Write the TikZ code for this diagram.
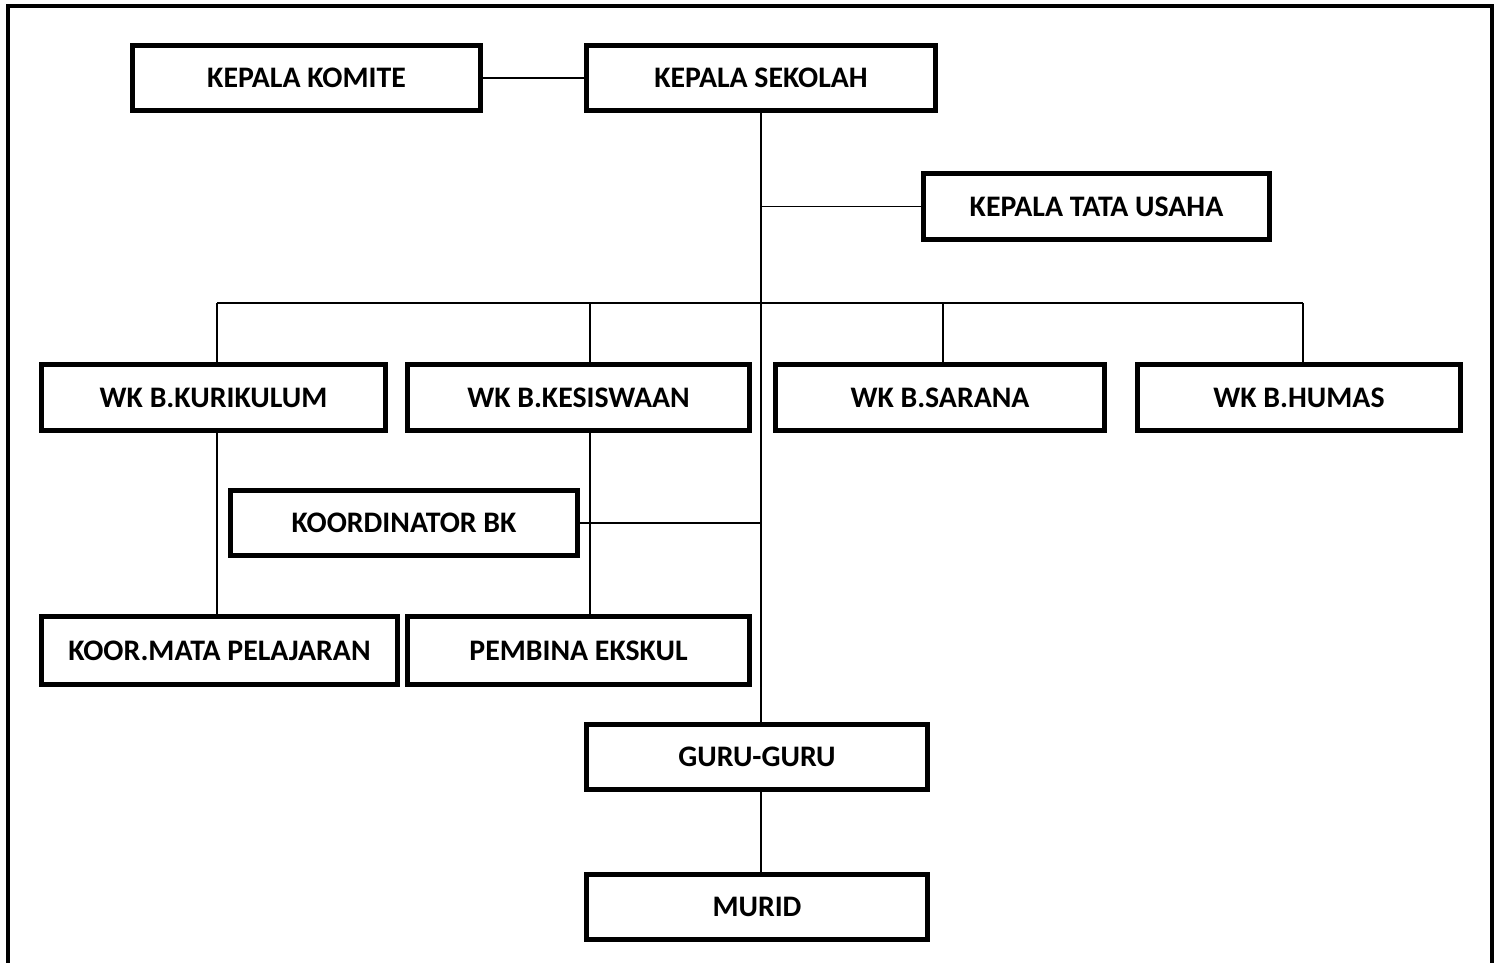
\documentclass[tikz,border=0pt]{standalone}
\usepackage{fontspec}
\setmainfont{Carlito}
\begin{document}
\begin{tikzpicture}[x=1pt,y=-1pt,
  box/.style={draw,line width=5pt,inner sep=0pt,font=\fontsize{29.8}{34}\selectfont\bfseries,minimum height=65pt},
  conn/.style={line width=1.5pt},
  frame/.style={line width=3.2pt}]
\useasboundingbox (0,0) rectangle (1501,962);
\draw[frame] (8,970) -- (8,6) -- (1492,6) -- (1492,970);
\node[box,minimum width=348pt] (komite) at (306.5,78) {KEPALA KOMITE};
\node[box,minimum width=349pt] (sekolah) at (761,78) {KEPALA SEKOLAH};
\node[box,minimum width=346pt,minimum height=66pt] (tu) at (1096.5,206.5) {KEPALA TATA USAHA};
\node[box,minimum width=344pt,minimum height=66pt] (kur) at (213.5,397.5) {WK B.KURIKULUM};
\node[box,minimum width=342pt,minimum height=66pt] (kes) at (578.5,397.5) {WK B.KESISWAAN};
\node[box,minimum width=329pt,minimum height=66pt] (sar) at (940,397.5) {WK B.SARANA};
\node[box,minimum width=323pt,minimum height=66pt] (hum) at (1299,397.5) {WK B.HUMAS};
\node[box,minimum width=347pt] (bk) at (404,523) {KOORDINATOR BK};
\node[box,minimum width=356pt,minimum height=68pt] (koor) at (219.5,650.5) {KOOR.MATA PELAJARAN};
\node[box,minimum width=342pt,minimum height=68pt] (pem) at (578.5,650.5) {PEMBINA EKSKUL};
\node[box,minimum width=341pt] (guru) at (757,757) {GURU-GURU};
\node[box,minimum width=341pt] (murid) at (757,907) {MURID};
\coordinate (t0) at (761,303);
\coordinate (b1) at (217,303);
\coordinate (b2) at (590,303);
\coordinate (b3) at (943,303);
\coordinate (b4) at (1303,303);
\draw[conn] (komite.east) -- (sekolah.west);
\draw[conn] (sekolah.south) -- (sekolah.south |- guru.north);
\draw[conn] (sekolah.south |- tu.west) -- (tu.west);
\draw[conn] (b1) -- (b4);
\draw[conn] (b1) -- (b1 |- kur.north);
\draw[conn] (b2) -- (b2 |- kes.north);
\draw[conn] (b3) -- (b3 |- sar.north);
\draw[conn] (b4) -- (b4 |- hum.north);
\draw[conn] (b1 |- kur.south) -- (b1 |- koor.north);
\draw[conn] (b2 |- kes.south) -- (b2 |- pem.north);
\draw[conn] (bk.east) -- (bk.east -| t0);
\draw[conn] (guru.south -| t0) -- (murid.north -| t0);
\end{tikzpicture}
\end{document}
